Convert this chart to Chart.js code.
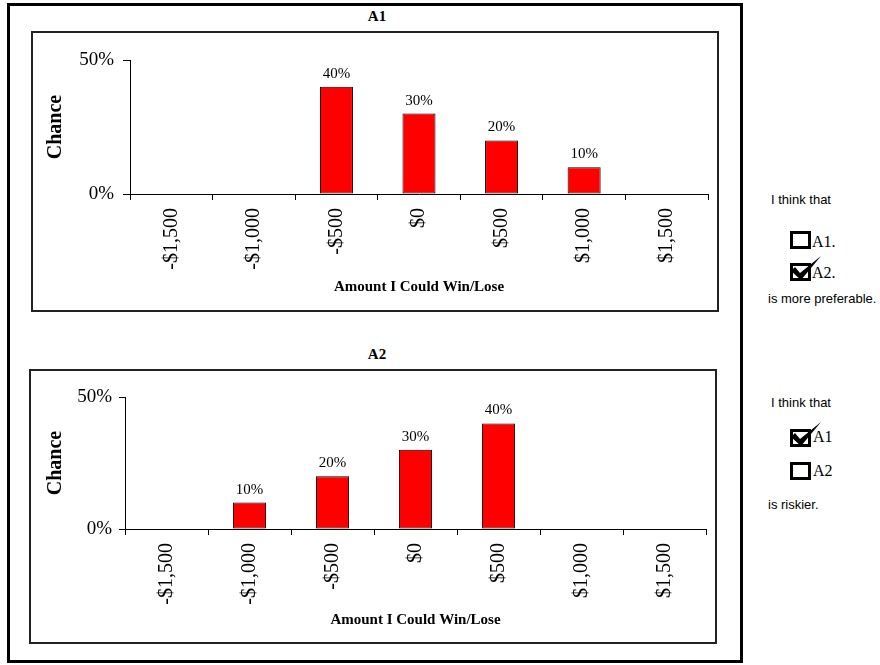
<!DOCTYPE html>
<html>
<head>
<meta charset="utf-8">
<title>A1 / A2</title>
<script src="https://cdn.jsdelivr.net/npm/chart.js@4.4.1/dist/chart.umd.min.js"></script>
<style>
  body { margin: 0; background: #fff; width: 880px; height: 665px; position: relative; overflow: hidden; }
  .abs { position: absolute; }
  .frame { left: 7px; top: 3px; width: 736px; height: 660px; border: 3px solid #000; box-sizing: border-box; }
  .box { border: 2px solid #222; box-sizing: border-box; }
  .title { width: 100px; text-align: center; font: bold 15px/15px "Liberation Serif", serif; color: #000; }
  .note { font: 13px/13px "Liberation Sans", Arial, sans-serif; color: #000; white-space: nowrap; }
  .opt { font: 16px/16px "Liberation Serif", serif; color: #000; }
  .check { width: 21px; height: 18px; border: 3px solid #000; box-sizing: border-box; }
  svg { overflow: visible; }
</style>
</head>
<body>
<div class="abs frame"></div>

<!-- Panel A1 -->
<div class="abs title" style="left:327px; top:9px;">A1</div>
<div class="abs box" style="left:31px; top:31px; width:688px; height:281px;"></div>
<canvas id="chartA1" class="abs" width="684" height="277" style="left:33px; top:33px;"></canvas>

<!-- Panel A2 -->
<div class="abs title" style="left:327px; top:347px;">A2</div>
<div class="abs box" style="left:29px; top:369px; width:688px; height:275px;"></div>
<canvas id="chartA2" class="abs" width="684" height="271" style="left:31px; top:371px;"></canvas>

<!-- Preguntas laterales -->
<div class="abs note" style="left:771px; top:193px;">I think that</div>
<div class="abs check" style="left:790px; top:231px;"></div>
<div class="abs opt" style="left:812px; top:234px;">A1.</div>
<div class="abs check" style="left:790px; top:263px;"></div>
<svg class="abs" width="1" height="1" style="left:790px; top:263px;"><polygon points="1,8 5,4 10,10 31,-7 11,17" fill="#000"/></svg>
<div class="abs opt" style="left:812px; top:265px;">A2.</div>
<div class="abs note" style="left:768px; top:292px;">is more preferable.</div>

<div class="abs note" style="left:771px; top:396px;">I think that</div>
<div class="abs check" style="left:790px; top:429px;"></div>
<svg class="abs" width="1" height="1" style="left:790px; top:429px;"><polygon points="1,8 5,4 10,10 31,-7 11,17" fill="#000"/></svg>
<div class="abs opt" style="left:813px; top:429px;">A1</div>
<div class="abs check" style="left:790px; top:462px;"></div>
<div class="abs opt" style="left:813px; top:463px;">A2</div>
<div class="abs note" style="left:768px; top:498px;">is riskier.</div>

<script>
// Datos
const categories = ['-$1,500', '-$1,000', '-$500', '$0', '$500', '$1,000', '$1,500'];
const chanceA1 = [0, 0, 40, 30, 20, 10, 0];
const chanceA2 = [0, 10, 20, 30, 40, 0, 0];
const yTicks = [0, 50];

// Etiquetas de porcentaje encima de cada barra
const barLabels = {
    id: 'barLabels',
    afterDatasetsDraw(chart) {
        const ctx = chart.ctx;
        const values = chart.data.datasets[0].data;
        ctx.save();
        ctx.font = '15px "Liberation Serif"';
        ctx.fillStyle = '#000';
        ctx.textAlign = 'center';
        ctx.textBaseline = 'alphabetic';
        chart.getDatasetMeta(0).data.forEach((bar, i) => {
            if (values[i] > 0) ctx.fillText(values[i] + '%', bar.x, bar.y - 9);
        });
        ctx.restore();
    }
};

const serif = 'Liberation Serif';

function makeChart(id, values, g) {
    return new Chart(document.getElementById(id), {
        type: 'bar',
        data: {
            labels: categories,
            datasets: [{
                data: values,
                backgroundColor: '#ff0000',
                borderColor: '#000',
                borderWidth: c => (c.raw > 0 ? 1 : 0),
                borderSkipped: false,
                barPercentage: 0.4,
                categoryPercentage: 1
            }]
        },
        options: {
            responsive: false,
            animation: false,
            layout: { padding: { top: g.top, right: g.right, left: 0, bottom: 0 } },
            plugins: { legend: { display: false }, tooltip: { enabled: false } },
            scales: {
                x: {
                    grid: { offset: true, drawOnChartArea: false, color: '#000', tickLength: 6 },
                    border: { color: '#000', width: 1 },
                    ticks: {
                        autoSkip: false, minRotation: 90, maxRotation: 90, padding: 8,
                        color: '#000', font: { family: serif, size: 20 }
                    },
                    title: {
                        display: true, text: 'Amount I Could Win/Lose', color: '#000',
                        font: { family: serif, size: 15, weight: 'bold' },
                        padding: { top: 0, bottom: g.xTitlePad }
                    },
                    afterFit: s => { s.height = g.xHeight; }
                },
                y: {
                    min: 0,
                    max: 50,
                    afterBuildTicks: s => { s.ticks = yTicks.map(v => ({ value: v })); },
                    grid: { drawOnChartArea: false, color: '#000', tickLength: g.yTick },
                    border: { color: '#000', width: 1 },
                    ticks: {
                        padding: g.yPad, color: '#000', font: { family: serif, size: 19 },
                        callback: v => v + '%'
                    },
                    title: {
                        display: true, text: 'Chance', color: '#000',
                        font: { family: serif, size: 20, weight: 'bold' },
                        padding: { top: g.yTitlePad, bottom: 0 }
                    },
                    afterFit: s => { s.width = g.yWidth; }
                }
            }
        },
        plugins: [barLabels]
    });
}

makeChart('chartA1', chanceA1, { top: 27, right: 9, xHeight: 116, xTitlePad: 13.5, yWidth: 97, yTick: 7, yPad: 9, yTitlePad: 11 });
makeChart('chartA2', chanceA2, { top: 26, right: 9, xHeight: 113, xTitlePad: 13, yWidth: 94, yTick: 6, yPad: 7, yTitlePad: 13 });
</script>
</body>
</html>
